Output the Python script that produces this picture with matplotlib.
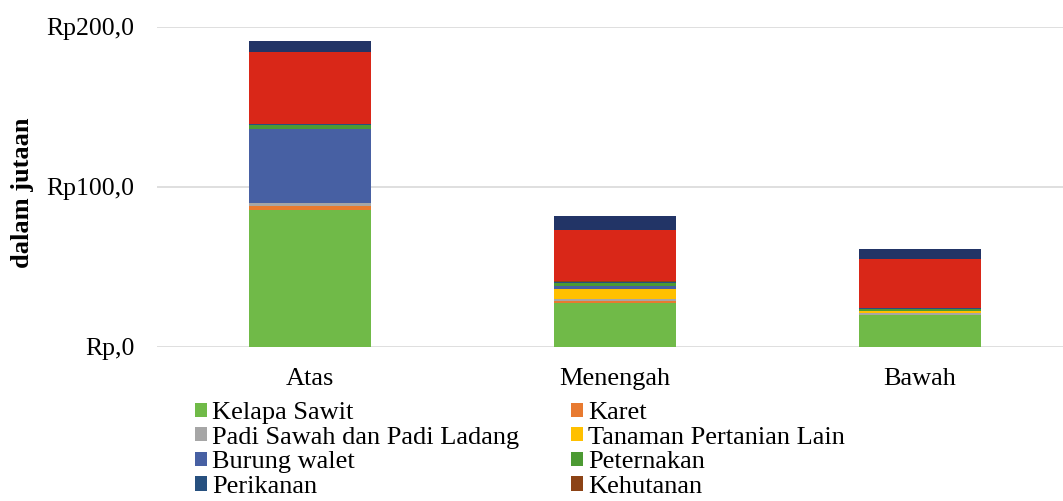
import matplotlib
matplotlib.use("Agg")
import matplotlib.pyplot as plt
import numpy as np

plt.rcParams["font.family"] = ["Liberation Serif", "DejaVu Serif"]

# Data (dalam jutaan rupiah)
categories = ["Atas", "Menengah", "Bawah"]
series_names = ["Kelapa Sawit", "Karet", "Padi Sawah dan Padi Ladang",
                "Tanaman Pertanian Lain", "Burung walet", "Peternakan",
                "Perikanan", "Kehutanan", "Non Pertanian", "Lainnya"]
kelapa_sawit = [85.6, 27.7, 20.0]
karet = [2.5, 1.0, 0.3]
padi = [1.7, 1.3, 0.7]
tanaman_lain = [0.3, 6.0, 1.5]
burung_walet = [46.2, 2.1, 0.3]
peternakan = [2.5, 1.7, 1.0]
perikanan = [0.5, 1.0, 0.3]
kehutanan = [0.2, 0.2, 0.3]
non_pertanian = [45.0, 31.9, 30.5]
lainnya = [6.7, 8.8, 6.6]

y_ticks = [0, 100, 200]
y_ticklabels = ["Rp,0", "Rp100,0", "Rp200,0"]

colors = ["#70BA48", "#E87A30", "#A6A6A6", "#FFC000", "#4760A3",
          "#4C9A33", "#27507F", "#8C4316", "#D92718", "#223466"]

all_series = [kelapa_sawit, karet, padi, tanaman_lain, burung_walet,
              peternakan, perikanan, kehutanan, non_pertanian, lainnya]

fig = plt.figure(figsize=(10.63, 5.01), dpi=100)
ax = fig.add_axes([157 / 1063, 1 - 347 / 501, 915 / 1063, 320 / 501])

x = np.arange(len(categories))
bottom = np.zeros(len(categories))
handles = []
for name, vals, col in zip(series_names, all_series, colors):
    b = ax.bar(x, vals, 0.4, bottom=bottom, color=col, label=name, zorder=3)
    handles.append(b)
    bottom += np.array(vals)

ax.set_xlim(-0.5, 2.5)
ax.set_ylim(0, 200)
ax.set_yticks(y_ticks)
ax.set_yticklabels(y_ticklabels, fontsize=18.5)
ax.set_xticks(x)
ax.set_xticklabels(categories, fontsize=19)
ax.tick_params(axis="both", length=0)
ax.tick_params(axis="y", pad=16)
ax.tick_params(axis="x", pad=15)
ax.yaxis.grid(True, color="#D9D9D9", linewidth=1.2, zorder=0)
for s in ax.spines.values():
    s.set_visible(False)

fig.text(22 / 1063, 1 - 193 / 501, "dalam jutaan", rotation=90, fontsize=19,
         fontweight="bold", ha="center", va="center")

# legend row-wise like the original (two columns); only the visible rows
order = [0, 2, 4, 6, 1, 3, 5, 7]
leg = fig.legend([handles[i] for i in order], [series_names[i] for i in order],
                 ncol=2, loc="upper left", bbox_to_anchor=(195 / 1063, 1 - 402 / 501),
                 frameon=False, fontsize=19, handlelength=0.45, handleheight=0.45,
                 handletextpad=0.19, columnspacing=1.97, labelspacing=0.1,
                 borderpad=0, borderaxespad=0)

fig.savefig("out.png", dpi=100)
